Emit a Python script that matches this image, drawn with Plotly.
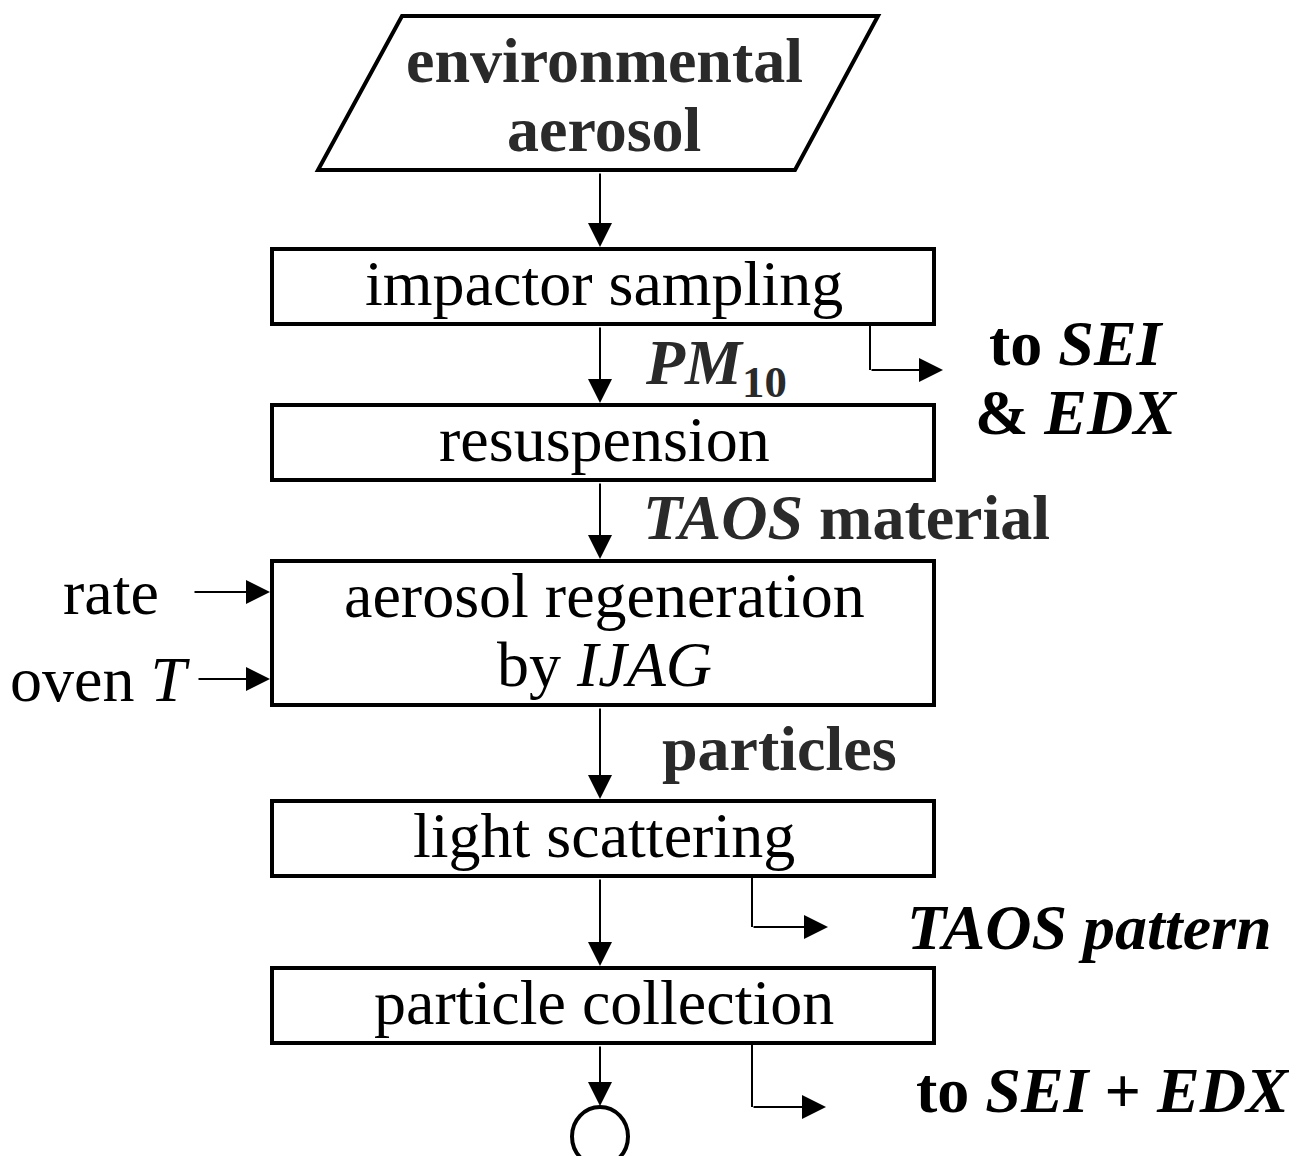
import plotly.graph_objects as go

# ---- content ----
input_label = ["environmental", "aerosol"]
step_labels = [["impactor sampling"], ["resuspension"],
               ["aerosol regeneration", "by <i>IJAG</i>"],
               ["light scattering"], ["particle collection"]]
flow_labels = ["<b><i>PM</i><sub>10</sub></b>", "<b><i>TAOS</i> material</b>", "<b>particles</b>"]
side_inputs = ["rate", "oven <i>T</i>"]
outputs = [["<b>to <i>SEI</i></b>", "<b>&amp; <i>EDX</i></b>"],
           ["<b><i>TAOS pattern</i></b>"],
           ["<b>to <i>SEI</i> + <i>EDX</i></b>"]]

# ---- layout geometry (pixels of the page) ----
W, H = 1297, 1156
OFF = 8  # default body margin of the html page
box_x0, box_x1 = 272, 934
box_y = [(249, 324), (405, 480), (561, 705), (801, 876), (968, 1043)]
cx = 600
FONT = "Liberation Serif, Times New Roman, serif"
FS = 64
LS = 69  # line spacing

fig = go.Figure()
shapes = []
ann = []

def text(x, y, t, color="black", xanchor="center"):
    ann.append(dict(x=x, y=y, text=t, showarrow=False, xanchor=xanchor, yanchor="middle",
                    font=dict(family=FONT, size=FS, color=color)))

def lines_block(x, yc, lines, color="black", bold=False, xanchor="center"):
    n = len(lines)
    for i, l in enumerate(lines):
        y = yc + (i - (n - 1) / 2) * LS
        text(x, y, "<b>" + l + "</b>" if bold else l, color, xanchor)

# parallelogram input
shapes.append(dict(type="path", path="M 402 16 L 878 16 L 795 170 L 318 170 Z",
                   line=dict(color="black", width=4), fillcolor="white", layer="below"))
lines_block(604, 95, input_label, color="#2a2a2a", bold=True)

for (y0, y1), lab in zip(box_y, step_labels):
    shapes.append(dict(type="rect", x0=box_x0, x1=box_x1, y0=y0, y1=y1,
                       line=dict(color="black", width=4), fillcolor="white", layer="below"))
    lines_block(604, (y0 + y1) / 2 - 3, lab)

def arrow(x0, y0, x1, y1):
    ann.append(dict(x=x1, y=y1, ax=x0, ay=y0, xref="x", yref="y", axref="x", ayref="y",
                    text="", showarrow=True, arrowhead=2, arrowsize=2.4, arrowwidth=2,
                    arrowcolor="black", standoff=0))

def line(x0, y0, x1, y1):
    shapes.append(dict(type="line", x0=x0, y0=y0, x1=x1, y1=y1,
                       line=dict(color="black", width=2)))

# main vertical arrows
arrow(cx, 172, cx, 247)
arrow(cx, 326, cx, 403)
arrow(cx, 482, cx, 559)
arrow(cx, 707, cx, 799)
arrow(cx, 878, cx, 966)
arrow(cx, 1045, cx, 1106)

# terminal circle
shapes.append(dict(type="circle", x0=572, x1=628, y0=1107, y1=1166,
                   line=dict(color="black", width=4), fillcolor="white"))

# side branches
line(870, 322, 870, 370)
arrow(870, 370, 943, 370)
line(752, 878, 752, 927)
arrow(752, 927, 828, 927)
line(752, 1045, 752, 1107)
arrow(752, 1107, 826, 1107)

# side inputs
arrow(193, 592, 270, 592)
arrow(197, 679, 270, 679)
text(161, 592, side_inputs[0], xanchor="right")
text(192, 679, side_inputs[1], xanchor="right")

# flow labels
flow_pos = [(643, 367), (641, 517), (660, 748)]
for (x, y), t in zip(flow_pos, flow_labels):
    text(x, y, t, color="#2a2a2a", xanchor="left")

# outputs
out_pos = [(1076, 378), (1089, 927), (1103, 1090)]
for (x, y), t in zip(out_pos, outputs):
    lines_block(x, y, t)

fig.update_layout(
    width=W, height=H, margin=dict(l=0, r=0, t=0, b=0),
    paper_bgcolor="white", plot_bgcolor="white",
    xaxis=dict(range=[OFF, W + OFF], visible=False, fixedrange=True),
    yaxis=dict(range=[H + OFF, OFF], visible=False, fixedrange=True),
    shapes=shapes, annotations=ann, showlegend=False,
)
fig.write_html("out.html")
